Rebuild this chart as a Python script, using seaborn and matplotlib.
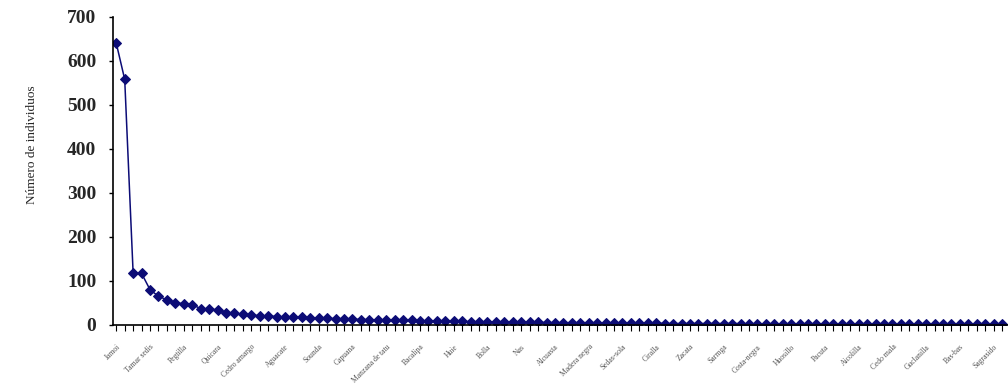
import matplotlib
matplotlib.use("Agg")
import matplotlib.pyplot as plt
import seaborn as sns
import pandas as pd

# Abundance per species, ranked from most to least abundant
abundance = [640, 558, 117, 117, 80, 65, 57, 50, 48, 46,
             37, 36, 34, 28, 26, 24, 22, 21, 20, 19,
             18, 17, 17, 16, 15, 15, 14, 14, 13, 12,
             12, 11, 11, 10, 10, 10, 9, 9, 9, 8,
             8, 8, 7, 7, 7, 7, 6, 6, 6, 6,
             6, 5, 5, 5, 5, 5, 5, 4, 4, 4,
             4, 4, 4, 4, 4, 3, 3, 3, 3, 3,
             3, 3, 3, 3, 3, 2, 2, 2, 2, 2,
             2, 2, 2, 2, 2, 2, 2, 2, 1, 1,
             1, 1, 1, 1, 1, 1, 1, 1, 1, 1,
             1, 1, 1, 1, 1, 1]

# Species names shown on the axis (every fourth rank)
shown_species = ["Jamoi", "Tamar sedis", "Pegtilla", "Quicara", "Cedro amargo",
                 "Aguacate", "Sounda", "Capuana", "Manzana de tatu", "Bacalipa",
                 "Huie", "Bolla", "Nas", "Alcuasta", "Madera negra",
                 "Sedas-sola", "Ciralla", "Zacata", "Sarmga", "Costa-negra",
                 "Huosillo", "Pacuta", "Aicolilla", "Cedo mala", "Guclanilla",
                 "Bas-bas", "Sagrasido"]
label_step = 4

y_ticks = [0, 100, 200, 300, 400, 500, 600, 700]

df = pd.DataFrame({"rank": range(len(abundance)), "n": abundance})

sns.set_style("white")
plt.rcParams["font.family"] = ["Liberation Serif", "DejaVu Serif"]

fig = plt.figure(figsize=(10.08, 3.84), dpi=100)
ax = fig.add_axes([0.112, 0.154, 0.888, 0.802])

navy = "#0c0c76"
sns.lineplot(data=df, x="rank", y="n", ax=ax, color=navy, linewidth=1.1,
             marker="D", markersize=5.2, markeredgecolor=navy,
             markerfacecolor=navy)

ax.set_xlim(-0.4, len(abundance) - 0.3)
ax.set_ylim(0, 700)
ax.set_yticks(y_ticks)
ax.set_yticklabels([str(v) for v in y_ticks], fontsize=14, fontweight="bold")

ax.set_xticks(range(len(abundance)), minor=True)
ax.set_xticks(range(0, len(shown_species) * label_step, label_step))
ax.set_xticklabels(shown_species, rotation=45, ha="right",
                   rotation_mode="anchor", fontsize=5.5, color="#555555")

ax.tick_params(axis="y", which="major", direction="out", length=3, width=1,
               color="black", left=True, pad=9)
ax.tick_params(axis="x", which="both", direction="out", length=4, width=0.8,
               color="black", bottom=True, pad=9)

ax.set_xlabel("")
ax.set_ylabel("Número de individuos", fontsize=9.5)
ax.yaxis.set_label_coords(-0.084, 0.584)

for side in ("top", "right"):
    ax.spines[side].set_visible(False)
for side in ("left", "bottom"):
    ax.spines[side].set_color("black")
    ax.spines[side].set_linewidth(1.2)

fig.savefig("out.png", dpi=100, facecolor="white")
